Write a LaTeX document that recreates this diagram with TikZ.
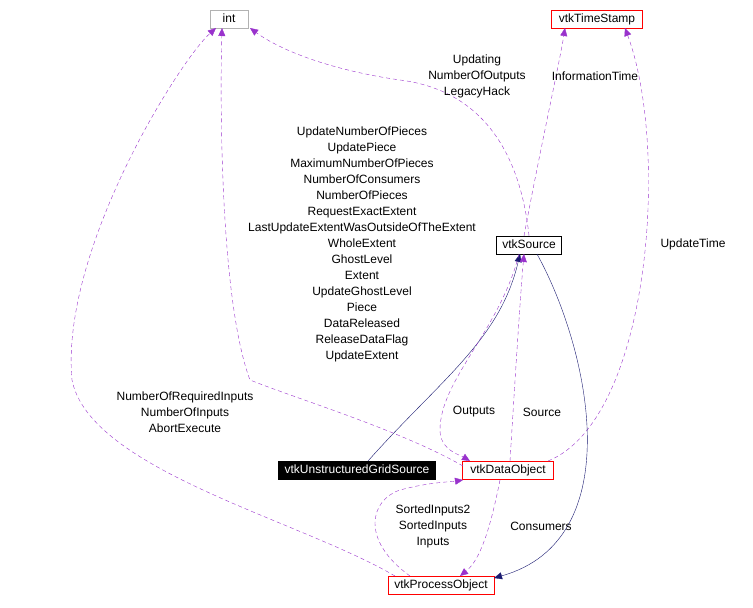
\documentclass[tikz,border=0pt]{standalone}
\usepackage{fontspec}
\setmainfont{Liberation Sans}
\usetikzlibrary{arrows.meta}
\definecolor{pur}{RGB}{153,50,204}
\definecolor{nav}{RGB}{25,25,112}
\begin{document}
\begin{tikzpicture}[x=1pt,y=-1pt,font=\fontsize{12}{13}\selectfont,
 box/.style={draw,rectangle,inner sep=0pt,minimum height=18pt,text height=8.5pt,text depth=2.5pt},
 dep/.style={draw=pur,dash pattern=on 4pt off 3pt,-{Triangle[length=8pt,width=7pt,fill=pur]}},
 inh/.style={draw=nav,-{Triangle[length=8pt,width=7pt,fill=nav]}},
 lab/.style={align=center,font=\fontsize{12}{16}\selectfont}]
\useasboundingbox (0,0) rectangle (753,608);
\node[box,draw=gray!60,minimum width=38pt] (int) at (229,19) {int};
\node[box,draw=red,minimum width=91pt] (ts) at (597,19) {vtkTimeStamp};
\node[box,minimum width=65pt] (src) at (529,245) {vtkSource};
\node[box,fill=black,text=white,minimum width=157pt] (ugs) at (357,470) {vtkUnstructuredGridSource};
\node[box,draw=red,minimum width=91pt] (dob) at (508,470) {vtkDataObject};
\node[box,draw=red,minimum width=106pt] (po) at (441,585) {vtkProcessObject};
% edges
\draw[dep] (src.north) .. controls (520,150) and (480,90) .. (400,80) .. controls (330,70) and (280,50) .. (250,28);
\draw[dep] (524,236) .. controls (540,150) and (560,60) .. (565,28);
\draw[dep] (548,461) .. controls (650,420) and (670,150) .. (625,28);
\draw[dep] (463,466) .. controls (400,430) and (300,400) .. (250,380) .. controls (220,300) and (220,100) .. (222,28);
\draw[dep] (395,576) .. controls (300,520) and (90,470) .. (72,380) .. controls (60,250) and (180,60) .. (216,28);
\draw[inh] (368,461) .. controls (440,380) and (500,340) .. (520,254);
\draw[dep] (510,461) .. controls (515,380) and (520,300) .. (524,254);
\draw[dep] (519,254) .. controls (500,330) and (440,380) .. (440,430) .. controls (440,450) and (460,455) .. (470,461);
\draw[inh] (537,254) .. controls (590,350) and (630,540) .. (494,578);
\draw[dep] (410,576) .. controls (360,540) and (370,500) .. (400,490) .. controls (430,482) and (450,482) .. (463,480);
\draw[dep] (500,480) .. controls (490,530) and (480,560) .. (460,576);
% labels
\node[lab] (l1) at (477,76) {Updating\\NumberOfOutputs\\LegacyHack};
\node[lab] (l2) at (595,76) {InformationTime};
\node[lab] (l3) at (693,244) {UpdateTime};
\node[lab] (l4) at (362,244) {UpdateNumberOfPieces\\UpdatePiece\\MaximumNumberOfPieces\\NumberOfConsumers\\NumberOfPieces\\RequestExactExtent\\LastUpdateExtentWasOutsideOfTheExtent\\WholeExtent\\GhostLevel\\Extent\\UpdateGhostLevel\\Piece\\DataReleased\\ReleaseDataFlag\\UpdateExtent};
\node[lab] (l5) at (185,412) {NumberOfRequiredInputs\\NumberOfInputs\\AbortExecute};
\node[lab] (l6) at (474,412) {Outputs};
\node[lab] (l7) at (542,412) {Source};
\node[lab] (l8) at (433,526) {SortedInputs2\\SortedInputs\\Inputs};
\node[lab] (l9) at (541,526) {Consumers};
\end{tikzpicture}
\end{document}
